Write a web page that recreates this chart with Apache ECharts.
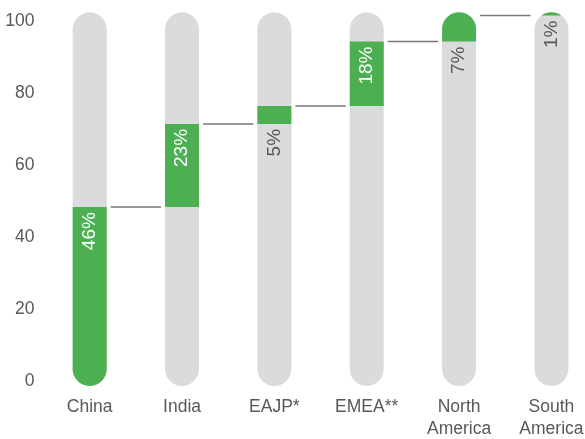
<!DOCTYPE html>
<html>
<head>
<meta charset="utf-8">
<script src="https://cdn.jsdelivr.net/npm/echarts@6/dist/echarts.min.js"></script>
<style>
html,body{margin:0;padding:0;background:#fff;}
#c{width:585px;height:439px;}
</style>
</head>
<body>
<div id="c"></div>
<script>
// ---- data ----
var categories = ['China', 'India', 'EAJP*', 'EMEA**', 'North\nAmerica', 'South\nAmerica'];
var shareLabels = ['46%', '23%', '5%', '18%', '7%', '1%'];
var segStart = [-1.4, 48.3, 71.4, 76.4, 94.3, 101.5];
var segEnd = [48.3, 71.4, 76.4, 94.3, 102.4, 102.4];
var trackMin = -1.4;
var trackMax = 102.4;
var yTicks = [0, 20, 40, 60, 80, 100];

var GREEN = '#4cb052';
var GREY = '#dadbdc';
var TEXT = '#585858';
var FONT = '"Liberation Sans", Arial, sans-serif';

var seriesData = categories.map(function (c, i) {
  return [i, segStart[i], segEnd[i]];
});

function halfWidthAt(y, T, B, r) {
  var dy;
  if (y < T + r) { dy = T + r - y; return Math.sqrt(Math.max(0, r * r - dy * dy)); }
  if (y > B - r) { dy = y - (B - r); return Math.sqrt(Math.max(0, r * r - dy * dy)); }
  return r;
}

function clipPoints(cx, r, T, B, ya, yb) {
  var ys = [];
  for (var y = ya; y < yb; y += 0.5) ys.push(y);
  ys.push(yb);
  var left = [], right = [];
  ys.forEach(function (y) {
    var w = halfWidthAt(y, T, B, r);
    left.push([cx - w, y]);
    right.push([cx + w, y]);
  });
  return left.concat(right.reverse());
}

function renderItem(params, api) {
  var i = api.value(0);
  var s = api.value(1);
  var e = api.value(2);
  var r = 17;
  var cx = api.coord([i, 0])[0];
  var T = api.coord([i, trackMax])[1];
  var B = api.coord([i, trackMin])[1];
  var ya = api.coord([i, e])[1];
  var yb = api.coord([i, s])[1];
  var children = [];
  children.push({
    type: 'rect',
    shape: { x: cx - r, y: T, width: 2 * r, height: B - T, r: r },
    style: { fill: GREY }
  });
  children.push({
    type: 'polygon',
    shape: { points: clipPoints(cx, r, T, B, ya, yb) },
    style: { fill: GREEN }
  });
  var inside = (e - s) > 10;
  var ty = inside ? ya + 5 : yb + 5;
  children.push({
    type: 'text',
    x: cx,
    y: ty,
    rotation: Math.PI / 2,
    style: {
      text: shareLabels[i],
      fill: inside ? '#ffffff' : TEXT,
      font: '19px ' + FONT,
      align: 'right',
      verticalAlign: 'middle'
    }
  });
  if (i > 0) {
    var px = api.coord([i - 1, 0])[0];
    children.push({
      type: 'line',
      shape: { x1: px + r + 4, y1: yb, x2: cx - r - 4, y2: yb },
      style: { stroke: '#777777', lineWidth: 1.5 }
    });
  }
  return { type: 'group', children: children };
}

var chart = echarts.init(document.getElementById('c'));
chart.setOption({
  animation: false,
  grid: { left: 43.5, top: 21, right: -12.6, bottom: 58, containLabel: false, outerBoundsMode: 'none' },
  xAxis: {
    type: 'category',
    data: categories,
    boundaryGap: true,
    axisLine: { show: false },
    axisTick: { show: false },
    splitLine: { show: false },
    axisLabel: {
      color: TEXT,
      fontSize: 17.5,
      fontFamily: FONT,
      lineHeight: 22,
      margin: 15,
      interval: 0
    }
  },
  yAxis: {
    type: 'value',
    min: yTicks[0],
    max: yTicks[yTicks.length - 1],
    interval: 20,
    axisLine: { show: false },
    axisTick: { show: false },
    splitLine: { show: false },
    axisLabel: {
      color: TEXT,
      fontSize: 17.5,
      fontFamily: FONT,
      margin: 9
    }
  },
  series: [{
    type: 'custom',
    clip: false,
    renderItem: renderItem,
    data: seriesData,
    encode: { x: 0, y: [1, 2] }
  }]
});
</script>
</body>
</html>
